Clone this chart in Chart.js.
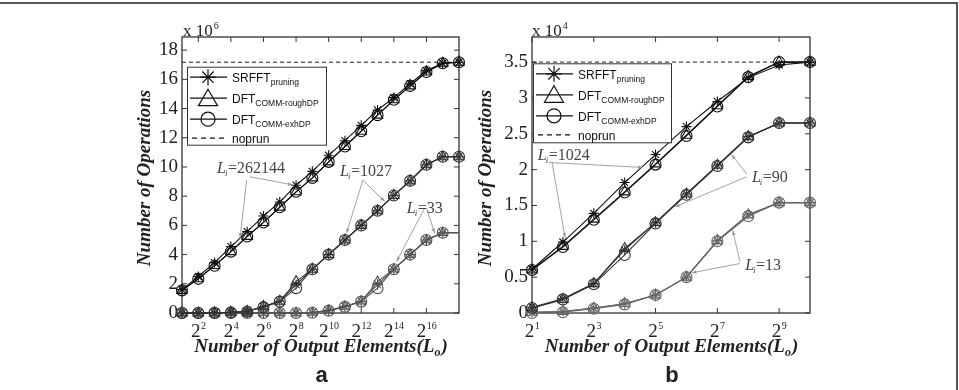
<!DOCTYPE html>
<html>
<head>
<meta charset="utf-8">
<script src="https://cdn.jsdelivr.net/npm/chart.js@4.4.1/dist/chart.umd.min.js"></script>
<style>
  html, body { margin: 0; padding: 0; background: #fff; }
  #wrap { position: relative; width: 959px; height: 390px; overflow: hidden; }
  #frame { position: absolute; left: 0; top: 2px; width: 956px; height: 420px;
           border-top: 2px solid #555; border-right: 2px solid #555; }
  #ca { position: absolute; left: 0; top: 0; }
  #cb { position: absolute; left: 470px; top: 0; }
</style>
</head>
<body>
<div id="wrap">
  <div id="frame"></div>
  <canvas id="ca" width="470" height="390"></canvas>
  <canvas id="cb" width="489" height="390"></canvas>
</div>
<script>
// ---- panel a : values x 10^6 ----
const loA = [2, 4, 8, 16, 32, 64, 128, 256, 512, 1024, 2048, 4096, 8192, 16384, 32768, 65536, 131072, 262144];
const xTicksA = [4, 16, 64, 256, 1024, 4096, 16384, 65536];
const yTicksA = [0, 2, 4, 6, 8, 10, 12, 14, 16, 18];
const yMaxA = 18.9;
const noprunA = 17.17;
// Li = 262144
const srfftA1 = [1.6, 2.5, 3.45, 4.55, 5.57, 6.64, 7.6, 8.75, 9.7, 10.8, 11.8, 12.85, 13.9, 14.75, 15.7, 16.6, 17.1, 17.17];
const roughA1 = [1.55, 2.35, 3.25, 4.2, 5.25, 6.2, 7.25, 8.3, 9.25, 10.35, 11.4, 12.45, 13.55, 14.6, 15.55, 16.5, 17.1, 17.17];
const exhA1 = [1.55, 2.34, 3.24, 4.2, 5.24, 6.2, 7.24, 8.3, 9.25, 10.35, 11.4, 12.45, 13.55, 14.6, 15.55, 16.5, 17.1, 17.17];
// Li = 1027
const srfftA2 = [0, 0, 0.01, 0.05, 0.12, 0.45, 0.8, 1.95, 3.0, 4.0, 5.0, 6.0, 7.0, 8.05, 9.05, 10.15, 10.7, 10.7];
const roughA2 = [0, 0, 0.01, 0.05, 0.12, 0.45, 0.8, 2.15, 3.0, 4.0, 5.0, 6.0, 7.0, 8.05, 9.05, 10.15, 10.7, 10.7];
const exhA2 = [0, 0, 0.01, 0.04, 0.1, 0.4, 0.78, 1.7, 3.0, 4.0, 5.0, 6.0, 7.0, 8.05, 9.05, 10.15, 10.7, 10.7];
// Li = 33
const srfftA3 = [0, 0, 0, 0, 0, 0, 0, 0, 0.03, 0.18, 0.45, 0.8, 1.95, 3.0, 4.0, 5.0, 5.5, 5.5];
const roughA3 = [0, 0, 0, 0, 0, 0, 0, 0, 0.03, 0.18, 0.45, 0.8, 2.15, 3.0, 4.0, 5.0, 5.5, 5.5];
const exhA3 = [0, 0, 0, 0, 0, 0, 0, 0, 0.02, 0.16, 0.42, 0.78, 1.7, 3.0, 4.0, 5.0, 5.5, 5.5];

// ---- panel b : values x 10^4 ----
const loB = [2, 4, 8, 16, 32, 64, 128, 256, 512, 1024];
const xTicksB = [2, 8, 32, 128, 512];
const yTicksB = [0, 0.5, 1, 1.5, 2, 2.5, 3, 3.5];
const yMaxB = 3.85;
const noprunB = 3.5;
// Li = 1024
const srfftB1 = [0.61, 0.99, 1.39, 1.82, 2.21, 2.6, 2.95, 3.28, 3.46, 3.5];
const roughB1 = [0.6, 0.93, 1.31, 1.69, 2.08, 2.48, 2.89, 3.3, 3.5, 3.5];
const exhB1 = [0.6, 0.92, 1.3, 1.68, 2.07, 2.47, 2.88, 3.29, 3.5, 3.5];
// Li = 90
const srfftB2 = [0.08, 0.2, 0.41, 0.88, 1.26, 1.66, 2.06, 2.46, 2.65, 2.65];
const roughB2 = [0.07, 0.19, 0.41, 0.9, 1.26, 1.66, 2.06, 2.46, 2.65, 2.65];
const exhB2 = [0.07, 0.19, 0.4, 0.81, 1.25, 1.65, 2.05, 2.45, 2.65, 2.65];
// Li = 13
const srfftB3 = [0.01, 0.02, 0.07, 0.13, 0.25, 0.5, 1.01, 1.37, 1.54, 1.54];
const roughB3 = [0.01, 0.02, 0.07, 0.13, 0.25, 0.5, 1.01, 1.37, 1.54, 1.54];
const exhB3 = [0, 0.01, 0.06, 0.12, 0.25, 0.5, 1.0, 1.35, 1.54, 1.54];

// annotation labels, positions given as [log2(x), y]
const notesA = [
  { label: '262144', at: [3.15, 9.6], lines: [[[5.17, 9.33], [7.8, 8.77]], [[4.97, 9.1], [4.56, 5.13]]] },
  { label: '1027', at: [10.7, 9.4], lines: [[[12.1, 9.1], [11.1, 5.47]], [[12.1, 9.1], [13.45, 7.63]]] },
  { label: '33', at: [14.8, 6.85], lines: [[[15.9, 7.2], [14.17, 3.53]], [[16.0, 7.2], [16.5, 5.47]]] }
];
const notesB = [
  { label: '1024', at: [1.19, 2.13], lines: [[[1.55, 2.1], [4.59, 2.03]], [[1.65, 2.1], [2.07, 1.05]]] },
  { label: '90', at: [8.12, 1.83], lines: [[[7.95, 1.94], [7.46, 2.21]], [[7.95, 1.9], [5.63, 1.48]]] },
  { label: '13', at: [7.9, 0.6], lines: [[[7.73, 0.72], [7.5, 1.15]], [[7.73, 0.69], [6.17, 0.56]]] }
];

const SERIF = '"Liberation Serif", "Times New Roman", serif';
const SANS = '"Liberation Sans", Arial, sans-serif';

function drawArrow(ctx, x0, y0, x1, y1) {
  ctx.beginPath(); ctx.moveTo(x0, y0); ctx.lineTo(x1, y1); ctx.stroke();
  const ang = Math.atan2(y1 - y0, x1 - x0);
  ctx.beginPath();
  ctx.moveTo(x1, y1);
  ctx.lineTo(x1 - 5 * Math.cos(ang - 0.35), y1 - 5 * Math.sin(ang - 0.35));
  ctx.lineTo(x1 - 5 * Math.cos(ang + 0.35), y1 - 5 * Math.sin(ang + 0.35));
  ctx.closePath(); ctx.fill();
}

const figPlugin = {
  id: 'fig',
  beforeDatasetsDraw(chart, args, o) {
    const { ctx, chartArea: a, scales: { x, y } } = chart;
    ctx.save();
    ctx.strokeStyle = '#333';
    ctx.lineWidth = 1.3;
    ctx.strokeRect(a.left, a.top, a.right - a.left, a.bottom - a.top);
    ctx.lineWidth = 1;
    o.yTicks.forEach(v => {
      const p = y.getPixelForValue(v);
      ctx.beginPath();
      ctx.moveTo(a.left, p); ctx.lineTo(a.left + 5, p);
      ctx.moveTo(a.right, p); ctx.lineTo(a.right - 5, p);
      ctx.stroke();
    });
    o.xTicks.forEach(v => {
      const p = x.getPixelForValue(v);
      ctx.beginPath();
      ctx.moveTo(p, a.bottom); ctx.lineTo(p, a.bottom - 5);
      ctx.moveTo(p, a.top); ctx.lineTo(p, a.top + 5);
      ctx.stroke();
    });
    ctx.restore();
  },
  afterDraw(chart, args, o) {
    const { ctx, chartArea: a, scales: { x, y } } = chart;
    const cx = (a.left + a.right) / 2;
    ctx.save();
    ctx.fillStyle = '#222';
    ctx.textBaseline = 'alphabetic';

    // x tick labels 2^n
    o.xTicks.forEach(v => {
      const e = String(Math.round(Math.log2(v)));
      const p = x.getPixelForValue(v);
      ctx.font = '19px ' + SERIF;
      const w1 = ctx.measureText('2').width;
      ctx.font = '10px ' + SERIF;
      const w2 = ctx.measureText(e).width;
      const x0 = p - (w1 + w2) / 2;
      ctx.font = '19px ' + SERIF;
      ctx.fillText('2', x0, a.bottom + 24);
      ctx.font = '10px ' + SERIF;
      ctx.fillText(e, x0 + w1 + 0.5, a.bottom + 16);
    });

    // multiplier "x 10^n"
    ctx.font = '17px ' + SERIF;
    ctx.fillText('x 10', a.left + o.expDx, a.top - 1);
    const wm = ctx.measureText('x 10').width;
    ctx.font = '10px ' + SERIF;
    ctx.fillText(o.exp, a.left + o.expDx + wm + 1, a.top - 8);

    // y title
    ctx.save();
    ctx.translate(o.yTitleX, 178);
    ctx.rotate(-Math.PI / 2);
    ctx.font = 'bold italic 19px ' + SERIF;
    ctx.textAlign = 'center';
    ctx.textBaseline = 'middle';
    ctx.fillText('Number of Operations', 0, 0);
    ctx.restore();

    // x title
    ctx.font = 'bold italic 19px ' + SERIF;
    const t1 = 'Number of Output Elements(L';
    const wt1 = ctx.measureText(t1).width;
    ctx.font = 'bold italic 12px ' + SERIF;
    const wo = ctx.measureText('o').width;
    ctx.font = 'bold italic 19px ' + SERIF;
    const wt3 = ctx.measureText(')').width;
    let tx = cx - (wt1 + wo + wt3) / 2;
    ctx.fillText(t1, tx, 352);
    ctx.font = 'bold italic 12px ' + SERIF;
    ctx.fillText('o', tx + wt1, 356);
    ctx.font = 'bold italic 19px ' + SERIF;
    ctx.fillText(')', tx + wt1 + wo + 1, 352);

    // panel letter
    ctx.font = 'bold 22px ' + SANS;
    ctx.textAlign = 'center';
    ctx.fillText(o.letter, cx + 1, 382);
    ctx.textAlign = 'left';

    // annotations
    o.notes.forEach(n => {
      ctx.strokeStyle = '#999';
      ctx.fillStyle = '#999';
      ctx.lineWidth = 0.9;
      n.lines.forEach(([p0, p1]) => {
        drawArrow(ctx, x.getPixelForValue(2 ** p0[0]), y.getPixelForValue(p0[1]),
                       x.getPixelForValue(2 ** p1[0]), y.getPixelForValue(p1[1]));
      });
      const px = x.getPixelForValue(2 ** n.at[0]);
      const py = y.getPixelForValue(n.at[1]);
      ctx.fillStyle = '#444';
      ctx.font = 'italic 16px ' + SERIF;
      ctx.fillText('L', px, py);
      const wl = ctx.measureText('L').width;
      ctx.font = 'italic 9px ' + SERIF;
      ctx.fillText('i', px + wl - 1, py + 3);
      ctx.font = '16px ' + SERIF;
      ctx.fillText('=' + n.label, px + wl + 2, py);
    });

    // legend
    const L = o.legend;
    ctx.fillStyle = '#fff';
    ctx.fillRect(a.left + L.dx, a.top + L.dy, L.w, L.h);
    ctx.strokeStyle = '#333';
    ctx.lineWidth = 1;
    ctx.strokeRect(a.left + L.dx + 0.5, a.top + L.dy + 0.5, L.w, L.h);
    const bx = a.left + L.dx, by = a.top + L.dy;
    const rows = [
      { style: 'star', r: 8, main: 'SRFFT', sub: 'pruning' },
      { style: 'triangle', r: 11, main: 'DFT', sub: 'COMM-roughDP' },
      { style: 'circle', r: 7, main: 'DFT', sub: 'COMM-exhDP' },
      { style: null, main: 'noprun' }
    ];
    const offs = [10.5, 31.5, 52.5, 71.5];
    rows.forEach((r, i) => {
      const ry = by + offs[i];
      ctx.strokeStyle = '#111';
      ctx.lineWidth = 1.2;
      if (r.style) {
        ctx.beginPath(); ctx.moveTo(bx + 3, ry); ctx.lineTo(bx + 40, ry); ctx.stroke();
        ctx.fillStyle = 'rgba(0,0,0,0)';
        Chart.helpers.drawPoint(ctx, { pointStyle: r.style, radius: r.r, borderWidth: 1.2, rotation: 0 },
                                bx + 21, ry + (r.style === 'triangle' ? 2 : 0));
      } else {
        ctx.setLineDash([5, 4]);
        ctx.beginPath(); ctx.moveTo(bx + 5, ry); ctx.lineTo(bx + 40, ry); ctx.stroke();
        ctx.setLineDash([]);
      }
      ctx.fillStyle = '#111';
      ctx.font = '12px ' + SANS;
      ctx.fillText(r.main, bx + 45, ry + 5);
      if (r.sub) {
        const w = ctx.measureText(r.main).width;
        ctx.font = '8.5px ' + SANS;
        ctx.fillText(r.sub, bx + 45 + w, ry + 8);
      }
    });
    ctx.restore();
  }
};

function lineSet(lo, vals, style, color, r, extra) {
  return Object.assign({
    data: lo.map((v, i) => ({ x: v, y: vals[i] })),
    borderColor: color,
    borderWidth: 1.1,
    pointStyle: style,
    pointRadius: r,
    pointBorderColor: color,
    pointBorderWidth: 1.1,
    pointBackgroundColor: 'rgba(0,0,0,0)',
    fill: false,
    tension: 0,
    clip: false
  }, extra || {});
}

function makeChart(id, lo, groups, noprun, yMax, yTicks, xTicks, leftW, padRight, plug) {
  const datasets = [];
  groups.forEach(g => {
    datasets.push(lineSet(lo, g[0], 'star', g[3], 5, g[4]));
    datasets.push(lineSet(lo, g[1], 'triangle', g[3], 6, g[4]));
    datasets.push(lineSet(lo, g[2], 'circle', g[3], 5.5, g[4]));
  });
  datasets.push({
    data: [{ x: lo[0], y: noprun }, { x: lo[lo.length - 1], y: noprun }],
    borderColor: '#222', borderWidth: 1, borderDash: [4, 3], pointRadius: 0, clip: false
  });
  return new Chart(document.getElementById(id), {
    type: 'line',
    data: { datasets },
    options: {
      responsive: false,
      animation: false,
      devicePixelRatio: 1,
      layout: { padding: { left: 0, top: 37, right: padRight, bottom: 77 } },
      plugins: { legend: { display: false }, tooltip: { enabled: false }, fig: plug },
      scales: {
        x: { type: 'logarithmic', min: lo[0], max: lo[lo.length - 1], display: false },
        y: {
          type: 'linear', min: 0, max: yMax,
          afterBuildTicks: s => { s.ticks = yTicks.map(v => ({ value: v })); },
          afterFit: s => { s.width = leftW; },
          grid: { display: false, drawTicks: false },
          border: { display: false },
          ticks: { font: { family: SERIF, size: 19 }, color: '#222', padding: 4, callback: v => String(v) }
        }
      }
    },
    plugins: [figPlugin]
  });
}

const hideLast = { pointRadius: loA.map((v, i) => i === loA.length - 1 ? 0 : 5.5) };

makeChart('ca', loA, [
  [srfftA1, roughA1, exhA1, '#111'],
  [srfftA2, roughA2, exhA2, '#333'],
  [srfftA3, roughA3, exhA3, '#555', hideLast]
], noprunA, yMaxA, yTicksA, xTicksA, 182, 11, {
  yTicks: yTicksA, xTicks: xTicksA, exp: '6', expDx: 1, yTitleX: 145, letter: 'a',
  notes: notesA, legend: { dx: 5, dy: 29.7, w: 139, h: 78 }
});

makeChart('cb', loB, [
  [srfftB1, roughB1, exhB1, '#111'],
  [srfftB2, roughB2, exhB2, '#333'],
  [srfftB3, roughB3, exhB3, '#666']
], noprunB, yMaxB, yTicksB, xTicksB, 62, 149, {
  yTicks: yTicksB, xTicks: xTicksB, exp: '4', expDx: 0, yTitleX: 16.5, letter: 'b',
  notes: notesB, legend: { dx: 1, dy: 26.3, w: 138, h: 79 }
});
</script>
</body>
</html>
